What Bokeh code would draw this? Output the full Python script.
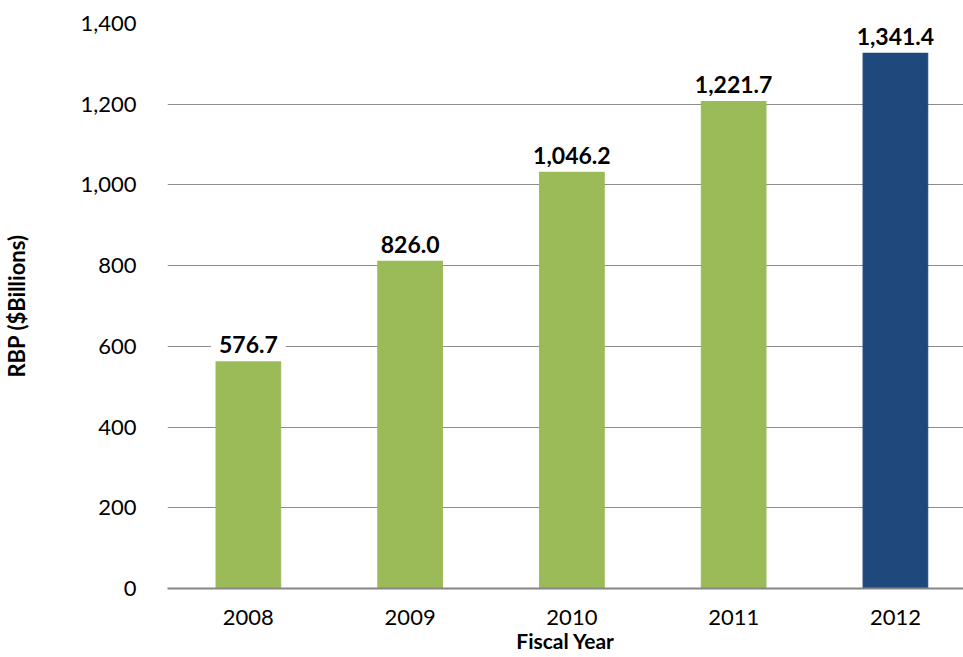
from bokeh.plotting import figure
from bokeh.models import ColumnDataSource, Range1d, FixedTicker, NumeralTickFormatter
from bokeh.core.properties import value
from bokeh.embed import file_html
from bokeh.resources import INLINE

years = ["2008", "2009", "2010", "2011", "2012"]
rbp = [576.7, 826.0, 1046.2, 1221.7, 1341.4]
bar_colors = ["#9BBB59", "#9BBB59", "#9BBB59", "#9BBB59", "#1F497D"]
y_ticks = [0, 200, 400, 600, 800, 1000, 1200, 1400]

pos = list(range(len(years)))
labels = [f"{v:,.1f}" for v in rbp]
src = ColumnDataSource(dict(x=pos, y=rbp, c=bar_colors, lab=labels))

FONT = "Lato"
p = figure(frame_width=796, frame_height=565, output_backend="svg", toolbar_location=None,
           x_range=Range1d(-0.5, 4.421), y_range=Range1d(0, 1400),
           min_border_left=165, min_border_right=0, min_border_top=23, min_border_bottom=60)
p.outline_line_color = None
p.background_fill_color = "white"

p.vbar(x="x", top="y", width=0.4, color="c", source=src)

p.text(x="x", y="y", text="lab", source=src, text_align="center", text_baseline="alphabetic",
       y_offset=-11, text_font=value(FONT), text_font_style="bold", text_font_size="23px",
       text_color="black", background_fill_color="white", padding=8)

p.xaxis.ticker = FixedTicker(ticks=pos)
p.xaxis.major_label_overrides = {i: y for i, y in zip(pos, years)}
p.yaxis.ticker = FixedTicker(ticks=y_ticks)
p.yaxis.formatter = NumeralTickFormatter(format="0,0")

for ax in (p.xaxis, p.yaxis):
    ax.major_tick_line_color = None
    ax.minor_tick_line_color = None
    ax.major_label_text_font = FONT
    ax.major_label_text_font_size = "22px"
    ax.major_label_text_color = "black"
    ax.axis_label_text_font = FONT
    ax.axis_label_text_font_style = "bold"
    ax.axis_label_text_font_size = "22px"
    ax.axis_label_text_color = "black"

p.yaxis.axis_line_color = None
p.yaxis.major_label_standoff = 25
p.yaxis.axis_label = "RBP ($Billions)"
p.yaxis.axis_label_standoff = 47

p.xaxis.axis_line_color = "#868686"
p.xaxis.axis_line_width = 2
p.xaxis.major_label_standoff = 15
p.xaxis.axis_label = "Fiscal Year"
p.xaxis.axis_label_text_font_size = "21px"
p.xaxis.axis_label_standoff = 0

p.xgrid.grid_line_color = None
p.ygrid.grid_line_color = "#8C8C8C"
p.ygrid.grid_line_width = 1.2
p.ygrid.ticker = FixedTicker(ticks=y_ticks[1:])

open("out.html", "w").write(file_html(p, INLINE))
